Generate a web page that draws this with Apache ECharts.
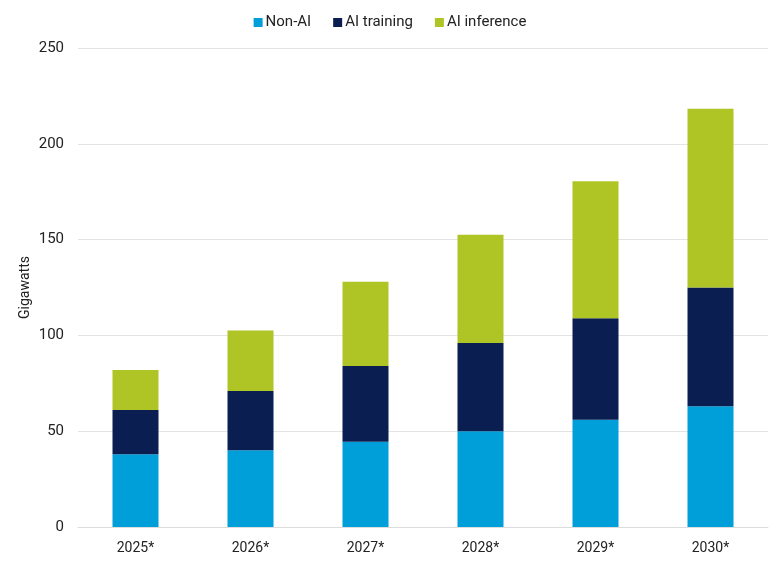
<!DOCTYPE html>
<html><head><meta charset="utf-8">
<script src="https://cdn.jsdelivr.net/npm/echarts@6/dist/echarts.min.js"></script>
<style>html,body{margin:0;padding:0;background:#fff}#c{width:780px;height:565px}</style>
</head><body><div id="c"></div>
<script>
const categories = ['2025*','2026*','2027*','2028*','2029*','2030*'];
const nonAI = [38, 40, 44.5, 50, 56, 63];
const aiTraining = [23, 31, 39.5, 46, 53, 62];
const aiInference = [21, 31.5, 44, 56.5, 71.5, 93.3];
const yTicks = [0, 50, 100, 150, 200, 250];

const font = 'Roboto';
const chart = echarts.init(document.getElementById('c'));
chart.setOption({
  animation: false,
  textStyle: {fontFamily: font},
  legend: {
    top: 10, left: 'center', itemWidth: 9, itemHeight: 9, itemGap: 22,
    icon: 'rect',
    textStyle: {fontFamily: font, fontSize: 15, color: '#222', padding: [0,0,0,-2]},
    data: ['Non-AI','AI training','AI inference']
  },
  grid: {left: 78, right: 12, top: 48, bottom: 38},
  xAxis: {
    type: 'category', data: categories,
    axisLine: {lineStyle: {color: '#ddd'}},
    axisTick: {show: false},
    axisLabel: {fontFamily: font, fontSize: 14, color: '#222', margin: 14}
  },
  yAxis: {
    type: 'value', min: yTicks[0], max: yTicks[yTicks.length-1], interval: 50,
    name: 'Gigawatts', nameLocation: 'middle', nameGap: 46, nameRotate: 90,
    nameMoveOverlap: false,
    nameTextStyle: {fontFamily: font, fontSize: 14, color: '#222'},
    axisLine: {show: false}, axisTick: {show: false},
    axisLabel: {fontFamily: font, fontSize: 15, color: '#222', margin: 14},
    splitLine: {lineStyle: {color: '#e3e3e3'}}
  },
  series: [
    {name: 'Non-AI', type: 'bar', stack: 't', data: nonAI, barWidth: '40%', itemStyle: {color: '#009FDA'}},
    {name: 'AI training', type: 'bar', stack: 't', data: aiTraining, itemStyle: {color: '#0A1E52'}},
    {name: 'AI inference', type: 'bar', stack: 't', data: aiInference, itemStyle: {color: '#AFC425'}}
  ]
});
</script></body></html>
